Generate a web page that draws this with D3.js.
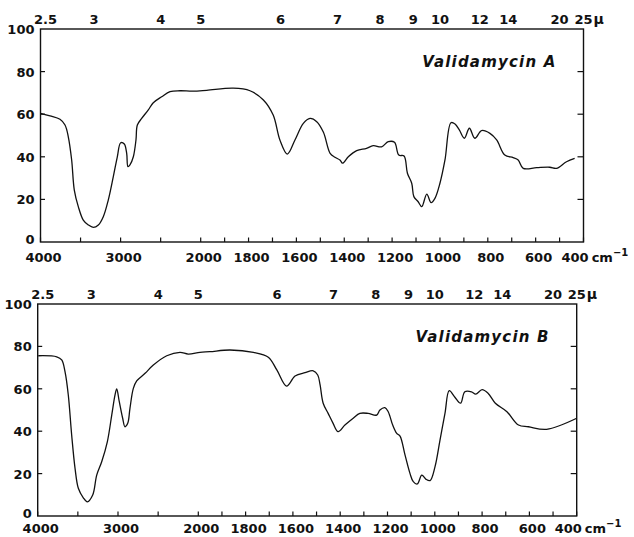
<!DOCTYPE html>
<html>
<head>
<meta charset="utf-8">
<script src="https://cdn.jsdelivr.net/npm/d3@7"></script>
<style>
  body { margin: 0; background: #fff; }
  svg text { font-family: "DejaVu Sans", sans-serif; fill: #111; }
</style>
</head>
<body>
<div id="chart"></div>
<script>
// IR spectra of validamycin A and B (% transmittance vs wavenumber)

// Validamycin A
const wnA = [4000, 3881, 3757, 3694, 3653, 3611, 3578, 3528, 3466, 3403, 3341, 3278, 3216, 3154, 3091, 3041,
  2999, 2954, 2924, 2908, 2883, 2841, 2808, 2791, 2737, 2654, 2592, 2487, 2383, 2259, 2100, 1975,
  1864, 1794, 1738, 1697, 1669, 1638, 1606, 1571, 1543, 1515, 1487, 1459, 1439, 1418, 1407, 1383,
  1348, 1307, 1279, 1244, 1216, 1190, 1172, 1150, 1136, 1118, 1109, 1091, 1076, 1055, 1037, 1021,
  1000, 979, 954, 937, 919, 898, 877, 854, 826, 791, 763, 729, 694, 673, 652, 596, 541, 513, 471, 437];
const tA = [60.4, 59.2, 57.6, 54.9, 49.4, 38.5, 24.4, 16.6, 10.3, 8.0, 6.9, 8.0, 11.9, 19.7, 30.7, 40.0,
  46.6, 46.0, 41.6, 35.4, 36.2, 40.0, 47.9, 54.9, 58.0, 62.0, 65.4, 68.2, 70.6, 71.0, 70.8, 71.2,
  72.2, 71.0, 66.7, 59.6, 47.9, 41.3, 47.9, 55.7, 58.0, 56.5, 51.5, 41.6, 39.8, 38.5, 37.0, 40.0,
  42.9, 44.0, 45.2, 44.7, 47.1, 46.8, 40.8, 40.4, 32.3, 27.6, 21.3, 18.9, 16.6, 22.5, 18.5, 20.5,
  27.6, 38.5, 56.0, 55.4, 52.6, 48.7, 53.4, 48.7, 52.3, 51.0, 47.9, 40.8, 39.6, 38.5, 34.6, 34.9, 35.1, 34.6, 37.7, 39.3];

// Validamycin B
const wnB = [3993, 3763, 3701, 3660, 3619, 3577, 3535, 3494, 3432, 3382, 3315, 3265, 3203, 3133, 3078, 3037,
  3016, 2984, 2942, 2913, 2879, 2851, 2809, 2767, 2663, 2560, 2393, 2228, 2125, 1993, 1951, 1866,
  1767, 1704, 1668, 1627, 1591, 1549, 1514, 1495, 1485, 1472, 1451, 1430, 1409, 1380, 1345, 1317,
  1282, 1246, 1232, 1211, 1197, 1178, 1161, 1147, 1126, 1105, 1091, 1074, 1055, 1037, 1020, 999,
  978, 957, 939, 915, 891, 873, 845, 827, 800, 775, 744, 695, 646, 604, 527, 400];
const tB = [75.6, 75.1, 73.6, 68.1, 57.1, 38.2, 22.5, 13.1, 8.6, 6.7, 9.9, 19.3, 25.6, 35.0, 47.6, 57.1,
  59.9, 53.9, 46.1, 42.1, 43.7, 50.8, 60.2, 63.7, 67.3, 71.2, 75.6, 77.2, 76.4, 77.2, 77.5, 78.3,
  77.2, 74.9, 68.9, 61.3, 66.0, 67.6, 68.5, 66.5, 61.8, 53.2, 48.4, 43.7, 39.8, 42.9, 46.1, 48.4,
  48.4, 47.6, 50.0, 51.1, 49.2, 42.9, 39.0, 37.7, 28.8, 20.1, 16.2, 15.1, 19.3, 17.3, 16.7, 23.3,
  35.8, 48.4, 59.1, 56.0, 53.2, 58.6, 58.6, 57.5, 59.6, 57.9, 53.2, 49.2, 42.9, 42.1, 40.9, 46.1];

// axis labels
const wnTicks = [4000, 3500, 3000, 2500, 2000, 1900, 1800, 1700, 1600, 1500, 1400, 1300, 1200, 1100,
  1000, 900, 800, 700, 600, 500, 400];
const wnLabels = [4000, 3000, 2000, 1800, 1600, 1400, 1200, 1000, 800, 600];
const micronLabels = ["2.5", "3", "4", "5", "6", "7", "8", "9", "10", "12", "14", "20", "25"];
const tLabels = [0, 20, 40, 60, 80, 100];
const tTicks = [20, 40, 60, 80];

const W = 634, H = 537;
const svg = d3.select("#chart").append("svg")
  .attr("width", W).attr("height", H);

const panels = [
  { title: "Validamycin A", wn: wnA, t: tA, left: 40.5, mid: 200.7, right: 583.5, top: 29, bottom: 242, muY: 24, labY: 262 },
  { title: "Validamycin B", wn: wnB, t: tB, left: 37.7, mid: 198.3, right: 576.7, top: 304, bottom: 516, muY: 299, labY: 533 }
];

panels.forEach(function(p) {
  // grating change at 2000 cm-1: piecewise linear wavenumber scale
  const x = d3.scaleLinear().domain([4000, 2000, 400]).range([p.left, p.mid, p.right]);
  const y = d3.scaleLinear().domain([0, 100]).range([p.bottom, p.top]);

  const g = svg.append("g");

  // frame
  g.append("rect")
    .attr("x", p.left).attr("y", p.top)
    .attr("width", p.right - p.left).attr("height", p.bottom - p.top)
    .attr("fill", "none").attr("stroke", "#111").attr("stroke-width", 1.4);

  // bottom ticks (inward)
  g.selectAll(".xt").data(wnTicks).enter().append("line")
    .attr("x1", d => x(d)).attr("x2", d => x(d))
    .attr("y1", p.bottom).attr("y2", p.bottom - 4.5)
    .attr("stroke", "#111").attr("stroke-width", 1.2);

  // left / right ticks
  g.selectAll(".yl").data(tTicks).enter().append("line")
    .attr("x1", p.left).attr("x2", p.left + 4.5)
    .attr("y1", d => y(d)).attr("y2", d => y(d))
    .attr("stroke", "#111").attr("stroke-width", 1.2);
  g.selectAll(".yr").data(tTicks).enter().append("line")
    .attr("x1", p.right).attr("x2", p.right - 6)
    .attr("y1", d => y(d)).attr("y2", d => y(d))
    .attr("stroke", "#111").attr("stroke-width", 1.2);

  // left labels
  g.selectAll(".ylab").data(tLabels).enter().append("text")
    .attr("x", p.left - 6).attr("y", d => y(d) + (d === 0 ? 2 : 5))
    .attr("text-anchor", "end")
    .attr("font-size", "13px").attr("font-weight", "bold")
    .text(d => d);

  // wavenumber labels
  g.selectAll(".xlab").data(wnLabels).enter().append("text")
    .attr("x", d => x(d) + 3).attr("y", p.labY)
    .attr("text-anchor", "middle")
    .attr("font-size", "13px").attr("font-weight", "bold")
    .text(d => d);
  const last = g.append("text")
    .attr("x", x(400) - 22).attr("y", p.labY)
    .attr("font-size", "13px").attr("font-weight", "bold");
  last.append("tspan").text("400");
  last.append("tspan").attr("dx", 3).text("cm");
  last.append("tspan").attr("dy", -6).attr("font-size", "10px").text("−1");

  // micron labels on top
  g.selectAll(".mu").data(micronLabels).enter().append("text")
    .attr("x", d => x(10000 / +d) + (d === "2.5" ? 5 : 0)).attr("y", p.muY)
    .attr("text-anchor", "middle")
    .attr("font-size", "13px").attr("font-weight", "bold")
    .text(d => d);
  g.append("text")
    .attr("x", x(400) + 10).attr("y", p.muY)
    .attr("font-size", "14px").attr("font-weight", "bold")
    .text("μ");

  // title
  g.append("text")
    .attr("x", p.right - 27).attr("y", p.top + 38)
    .attr("text-anchor", "end")
    .attr("font-size", "15px").attr("font-weight", "bold")
    .attr("font-style", "italic").attr("letter-spacing", "1.2px")
    .text(p.title);

  // spectrum
  const pts = p.wn.map((w, i) => [w, p.t[i]]);
  const line = d3.line()
    .x(d => x(d[0])).y(d => y(d[1]))
    .curve(d3.curveCatmullRom.alpha(0.5));
  g.append("path")
    .datum(pts)
    .attr("d", line)
    .attr("fill", "none").attr("stroke", "#111")
    .attr("stroke-width", 1.3).attr("stroke-linejoin", "round");
});
</script>
</body>
</html>
